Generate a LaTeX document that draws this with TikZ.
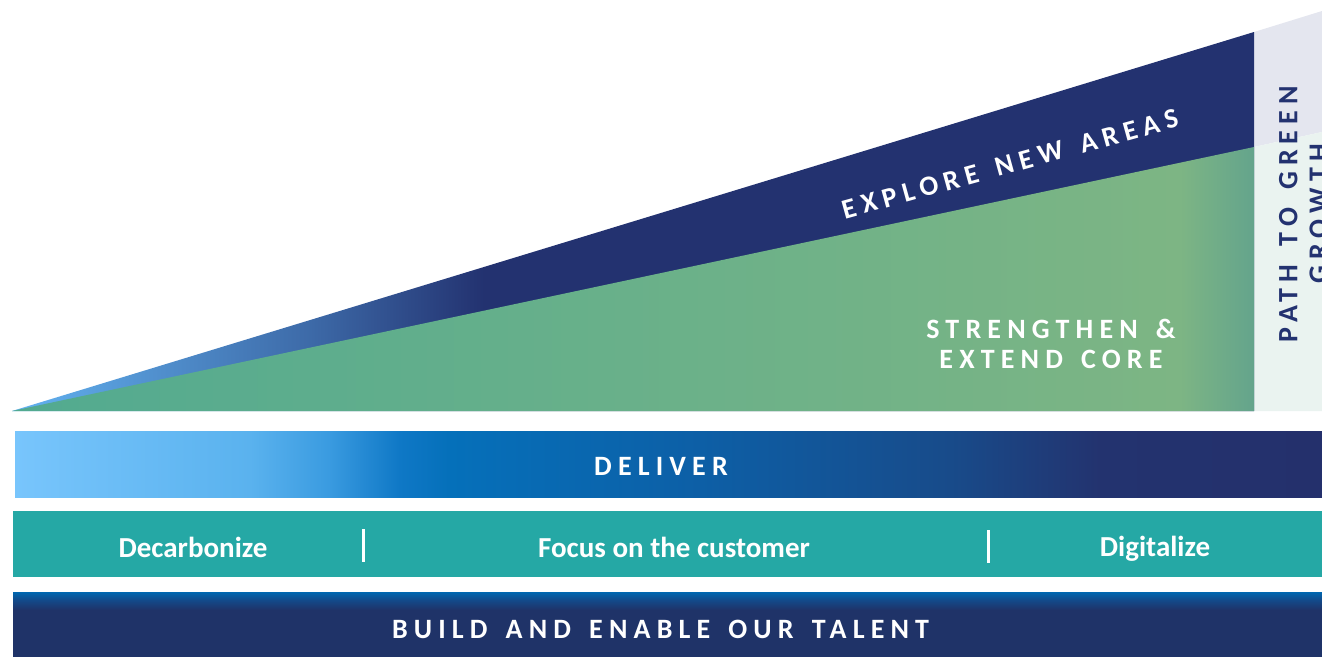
\documentclass[tikz,border=0pt]{standalone}
\usepackage{fontspec}
\setmainfont{Carlito}
\newfontfamily\spaced{Carlito}[LetterSpace=22, WordSpace=1.45]
\usetikzlibrary{positioning}
\definecolor{navy}{HTML}{233270}
\definecolor{tipblue}{HTML}{63B3F1}
\definecolor{midblue}{HTML}{3D6AA8}
\definecolor{gcore1}{HTML}{52AA90}
\definecolor{gcore2}{HTML}{68B08A}
\definecolor{gcore3}{HTML}{7DB584}
\definecolor{gcore4}{HTML}{64A48C}
\definecolor{dv1}{HTML}{78C5FC}
\definecolor{dv2}{HTML}{5AB2EE}
\definecolor{dv3}{HTML}{3A9BE0}
\definecolor{dv4}{HTML}{0F78C6}
\definecolor{dv5}{HTML}{0570BA}
\definecolor{dv6}{HTML}{0D5FA6}
\definecolor{dv7}{HTML}{184B8A}
\definecolor{dv8}{HTML}{23336F}
\definecolor{dv9}{HTML}{24306C}
\definecolor{teal}{HTML}{25A8A5}
\definecolor{talenttop}{HTML}{0067B0}
\definecolor{talentmid}{HTML}{134A8A}
\definecolor{talentnavy}{HTML}{1F3368}
\definecolor{lavender}{HTML}{E4E6EF}
\definecolor{mint}{HTML}{EAF3F0}
\pgfdeclarehorizontalshading{navyfade}{100bp}{color(0bp)=(tipblue); color(25bp)=(tipblue); color(37bp)=(midblue); color(44bp)=(navy); color(100bp)=(navy)}
\pgfdeclarehorizontalshading{greenfade}{100bp}{color(0bp)=(gcore1); color(25bp)=(gcore1); color(48.7bp)=(gcore2); color(72bp)=(gcore3); color(75bp)=(gcore4); color(100bp)=(gcore4)}
\pgfdeclarehorizontalshading{delivershade}{100bp}{color(0bp)=(dv1); color(25bp)=(dv1); color(34bp)=(dv2); color(37bp)=(dv3); color(39.7bp)=(dv4); color(41.6bp)=(dv5); color(51.2bp)=(dv6); color(60.8bp)=(dv7); color(66.5bp)=(dv8); color(75bp)=(dv9); color(100bp)=(dv9)}
\pgfdeclareverticalshading{talentshade}{100bp}{color(0bp)=(talentnavy); color(61bp)=(talentnavy); color(68.7bp)=(talentmid); color(75bp)=(talenttop); color(100bp)=(talenttop)}
\tikzstyle{bar} = [rectangle, inner sep=0pt, outer sep=0pt, minimum height=66pt]
\tikzstyle{caps} = [text=white, font=\spaced\bfseries\fontsize{28}{30.5}\selectfont, align=center, inner sep=0pt]
\tikzstyle{pillar} = [text=white, font=\bfseries\fontsize{29}{31}\selectfont, inner sep=0pt, anchor=base]
\tikzstyle{divider} = [white, line width=3pt]

\begin{document}
\begin{tikzpicture}[x=1pt, y=-1pt]
    \useasboundingbox (0,0) rectangle (1322,656);
    \clip (0,0) rectangle (1322,656);
    % right column
    \fill [lavender] (1254,147) -- (1254,32) -- (1322,11) -- (1322,132) -- cycle;
    \fill [mint] (1254,411) -- (1254,147) -- (1322,132) -- (1322,411) -- cycle;
    % wedges
    \shade [shading=navyfade] (12,411) -- (1254,32) -- (1254,411) -- cycle;
    \shade [shading=greenfade] (12,411) -- (1254,147) -- (1254,411) -- cycle;
    \node (explore) [caps, rotate=15.5] at (1010,164) {EXPLORE NEW AREAS};
    \node (core) [caps] at (1051,344) {STRENGTHEN \&\\EXTEND CORE};
    \node (path) [caps, text=navy, rotate=90] at (1303.5,214) {PATH TO GREEN\\GROWTH};
    % bars
    \node (deliverbar) [bar, shade, shading=delivershade, minimum width=1307pt] at (668.5,464) {};
    \node (pillarbar) [bar, fill=teal, minimum width=1309pt] at (667.5,544) {};
    \node (talentbar) [bar, shade, shading=talentshade, minimum width=1309pt, minimum height=64pt] at (667.5,624) {};
    \node (deliver) [caps] at (661,466) {DELIVER};
    \node (decarb) [pillar] at (193,557) {Decarbonize};
    \node (customer) [pillar] at (674,557) {Focus on the customer};
    \node (digital) [pillar] at (1155,556) {Digitalize};
    \draw [divider] (363,529) -- (363,562);
    \draw [divider] (988,530) -- (988,563);
    \node (talent) [caps] at (660.5,629) {BUILD AND ENABLE OUR TALENT};
\end{tikzpicture}
\end{document}
